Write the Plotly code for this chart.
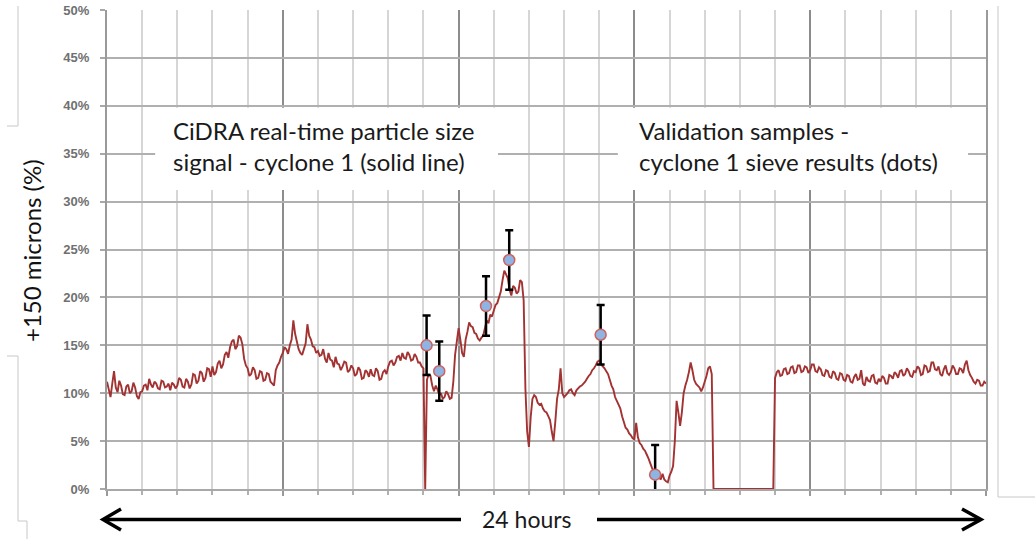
import plotly.graph_objects as go

# ---------------- data ----------------
# time axis in grid units (25 minor divisions = 24 hours), sampled every 0.05 unit
signal_step = 0.05
signal_pct = [
    11.2, 10.4, 9.6, 11.0, 12.3, 10.6, 10.1, 11.3, 10.8, 9.9, 9.8, 10.7, 10.9, 10.0, 10.2, 11.1, 10.6, 9.7, 9.4, 10.1,
    10.2, 10.8, 10.9, 10.3, 11.5, 10.9, 10.6, 11.2, 11.0, 10.5, 10.4, 11.3, 11.2, 10.6, 10.7, 11.0, 10.3, 11.1, 10.9, 10.5,
    10.8, 11.6, 11.4, 10.7, 10.6, 11.5, 11.2, 10.5, 10.9, 12.0, 11.9, 11.0, 11.3, 12.3, 12.1, 11.2, 11.6, 12.6, 12.5, 11.7,
    12.8, 11.9, 12.2, 13.1, 13.4, 12.6, 13.0, 14.0, 14.3, 13.7, 14.8, 15.4, 15.6, 14.6, 14.9, 16.0, 15.8, 15.1, 13.6, 12.9,
    12.6, 11.8, 12.0, 12.7, 12.4, 11.5, 11.6, 12.3, 12.2, 11.3, 11.4, 12.1, 12.0, 11.2, 11.0, 10.8, 12.4, 12.9, 13.2, 13.8,
    14.2, 14.8, 14.6, 14.1, 15.0, 15.6, 17.6, 16.2, 15.4, 14.6, 14.2, 14.0, 14.6, 15.2, 17.2, 16.0, 15.6, 14.9, 14.8, 14.2,
    14.4, 13.9, 14.0, 14.6, 13.6, 13.2, 14.2, 13.5, 13.4, 12.7, 13.8, 13.1, 13.0, 12.4, 12.8, 13.3, 13.2, 12.2, 12.4, 12.9,
    12.6, 11.8, 12.0, 12.7, 12.4, 11.5, 11.6, 12.4, 12.2, 11.7, 12.5, 11.9, 11.8, 12.6, 12.3, 11.4, 11.5, 12.2, 12.4, 12.0,
    12.8, 13.3, 13.4, 12.9, 13.2, 13.8, 13.9, 13.4, 14.2, 13.7, 13.6, 14.3, 14.0, 13.4, 13.5, 14.1, 13.8, 13.2, 13.2, 12.8,
    12.6, 0.0, 11.4, 12.0, 11.8, 10.8, 10.2, 10.8, 10.4, 9.8, 10.0, 9.4, 9.6, 10.2, 9.9, 9.4, 9.5, 11.2, 14.0, 15.4,
    16.8, 15.6, 14.2, 13.8, 15.6, 16.4, 17.4, 17.0, 16.9, 16.3, 16.2, 15.7, 15.5, 15.8, 16.0, 16.8, 17.6, 17.3, 18.2, 18.0,
    18.6, 19.2, 19.4, 20.0, 20.6, 21.8, 22.8, 22.4, 22.0, 20.8, 20.2, 21.2, 21.0, 20.4, 20.6, 21.8, 21.6, 19.7, 10.5, 6.0,
    4.4, 7.5, 9.4, 9.8, 9.6, 9.0, 8.8, 8.9, 8.4, 8.1, 8.0, 7.6, 7.2, 6.0, 5.0, 7.0, 9.4, 10.4, 12.6, 10.0,
    9.6, 9.8, 10.0, 10.3, 10.4, 10.0, 9.8, 10.3, 10.5, 10.7, 10.8, 11.0, 11.2, 11.5, 11.8, 12.0, 12.4, 12.6, 12.9, 13.3,
    13.4, 13.0, 12.8, 12.6, 12.3, 12.0, 11.4, 10.8, 10.4, 9.6, 9.2, 8.8, 8.4, 7.6, 7.0, 6.4, 6.2, 5.8, 5.6, 5.3,
    5.2, 6.9, 5.4, 4.8, 4.6, 4.2, 4.0, 3.6, 3.2, 2.7, 2.2, 1.8, 1.6, 1.4, 1.2, 1.0, 1.6, 1.0, 0.8, 0.7,
    1.4, 1.8, 2.4, 5.0, 9.2, 8.0, 6.6, 8.0, 10.0, 10.8, 11.4, 12.2, 13.2, 12.4, 11.4, 11.0, 10.8, 10.6, 10.2, 10.6,
    11.2, 11.8, 12.6, 12.8, 12.0, 0.0, 0.0, 0.0, 0.0, 0.0, 0.0, 0.0, 0.0, 0.0, 0.0, 0.0, 0.0, 0.0, 0.0, 0.0,
    0.0, 0.0, 0.0, 0.0, 0.0, 0.0, 0.0, 0.0, 0.0, 0.0, 0.0, 0.0, 0.0, 0.0, 0.0, 0.0, 0.0, 0.0, 0.0, 0.0,
    11.6, 12.2, 12.4, 11.8, 11.9, 12.5, 12.6, 12.0, 12.1, 12.7, 12.8, 12.1, 12.2, 12.9, 12.9, 12.2, 12.3, 12.8, 12.7, 12.1,
    12.4, 13.0, 13.0, 12.3, 12.2, 12.7, 12.5, 11.9, 11.8, 12.4, 12.3, 11.7, 11.6, 12.3, 12.1, 11.5, 11.4, 12.1, 12.0, 11.4,
    11.3, 11.9, 11.8, 11.2, 11.1, 11.7, 12.0, 11.4, 11.5, 12.4, 11.0, 10.8, 11.7, 11.3, 11.2, 11.8, 11.9, 11.1, 11.0, 11.5,
    11.2, 11.8, 11.6, 11.0, 11.0, 11.9, 11.8, 11.5, 12.2, 12.0, 11.6, 12.3, 12.4, 11.8, 12.0, 12.6, 12.3, 11.8, 11.7, 12.3,
    12.2, 12.8, 12.6, 11.9, 12.0, 12.9, 12.8, 12.2, 12.3, 13.2, 13.2, 12.5, 12.4, 12.8, 12.0, 11.8, 12.5, 12.9, 12.1, 11.9,
    12.2, 12.9, 12.6, 12.0, 12.0, 12.6, 12.5, 12.1, 13.0, 13.4, 12.4, 11.9, 11.6, 11.2, 11.0, 11.4, 11.3, 10.8, 10.8, 11.2,
    11.0,
]
signal_x = [round(i * signal_step, 3) for i in range(len(signal_pct))]

sample_x = [9.09, 9.45, 10.78, 11.44, 14.04, 15.59]
sample_pct = [15.0, 12.3, 19.1, 23.9, 16.1, 1.5]
sample_err = [3.1, 3.1, 3.1, 3.1, 3.1, 3.1]

y_ticks = [0, 5, 10, 15, 20, 25, 30, 35, 40, 45, 50]
y_tick_text = ["0%", "5%", "10%", "15%", "20%", "25%", "30%", "35%", "40%", "45%", "50%"]

box_left_text = "CiDRA real-time particle size<br>signal - cyclone 1 (solid line)"
box_right_text = "Validation samples -<br>cyclone 1 sieve results (dots)"
y_title = "+150 microns (%)"
span_text = "24 hours"

# ---------------- figure ----------------
W, H = 1035, 539
L, R, T, B = 107, 49, 10, 50
PW, PH = W - L - R, H - T - B


def px(x):
    return (x - L) / PW


def py(y):
    return (H - B - y) / PH


fig = go.Figure()

fig.add_trace(go.Scatter(
    x=signal_x, y=signal_pct, mode="lines",
    line=dict(color="#a33232", width=1.9, simplify=False),
    hoverinfo="skip", showlegend=False,
))

fig.add_trace(go.Scatter(
    x=sample_x, y=sample_pct, mode="markers",
    marker=dict(size=11, color="#8db4e2", line=dict(color="#d0605c", width=1.5)),
    error_y=dict(type="data", array=sample_err, symmetric=True,
                 color="black", thickness=2.5, width=4),
    showlegend=False,
))

shapes = []
# white text boxes
for x0, x1 in [(1.37, 11.12), (14.53, 24.49)]:
    shapes.append(dict(type="rect", xref="x", yref="y", x0=x0, x1=x1, y0=31.2, y1=39.8,
                       fillcolor="white", line=dict(width=0), layer="above"))

# bottom double arrow
ay = py(519.5)
arrow_line = dict(color="black", width=3.5)
shapes.append(dict(type="line", xref="paper", yref="paper", x0=px(104), x1=px(461), y0=ay, y1=ay, line=arrow_line))
shapes.append(dict(type="path", xref="paper", yref="paper",
                   path=f"M {px(121)},{py(509)} L {px(103)},{ay} L {px(121)},{py(530)}",
                   line=arrow_line))
shapes.append(dict(type="line", xref="paper", yref="paper", x0=px(597), x1=px(980), y0=ay, y1=ay, line=arrow_line))
shapes.append(dict(type="path", xref="paper", yref="paper",
                   path=f"M {px(962)},{py(509)} L {px(981)},{ay} L {px(962)},{py(530)}",
                   line=arrow_line))

# faint frame fragments around the chart
frame = dict(color="#c8c8c8", width=1)
shapes.append(dict(type="path", xref="paper", yref="paper",
                   path=f"M {px(18)},{py(6)} L {px(18)},{py(126)} L {px(7)},{py(126)}", line=frame))
shapes.append(dict(type="path", xref="paper", yref="paper",
                   path=f"M {px(7)},{py(356)} L {px(18)},{py(356)} L {px(18)},{py(521)} L {px(27)},{py(521)} L {px(27)},{py(539)}",
                   line=frame))
shapes.append(dict(type="path", xref="paper", yref="paper",
                   path=f"M {px(998)},{py(6)} L {px(998)},{py(497)} L {px(1035)},{py(497)}", line=frame))

annotations = [
    dict(x=1.82, y=35.85, xref="x", yref="y", text=box_left_text, showarrow=False,
         xanchor="left", yanchor="middle", align="left",
         font=dict(family="Lato", size=24, color="#1a1a1a")),
    dict(x=15.08, y=35.85, xref="x", yref="y", text=box_right_text, showarrow=False,
         xanchor="left", yanchor="middle", align="left",
         font=dict(family="Lato", size=24, color="#1a1a1a")),
    dict(x=px(527), y=py(519), xref="paper", yref="paper", text=span_text, showarrow=False,
         xanchor="center", yanchor="middle",
         font=dict(family="Lato", size=23, color="#1a1a1a")),
    dict(x=px(31), y=py(251), xref="paper", yref="paper", text=y_title, showarrow=False,
         textangle=-90, xanchor="center", yanchor="middle",
         font=dict(family="Lato", size=24, color="#111111")),
]

fig.update_layout(
    width=W, height=H,
    margin=dict(l=L, r=R, t=T, b=B, pad=0),
    paper_bgcolor="white", plot_bgcolor="white",
    shapes=shapes, annotations=annotations,
    showlegend=False,
)

fig.update_xaxes(
    range=[0, 25], tick0=0, dtick=5, automargin=False,
    showgrid=True, gridcolor="#8c8c8c", gridwidth=2,
    ticks="outside", ticklen=5, tickcolor="#9a9a9a", tickwidth=1.5,
    showticklabels=False, zeroline=False,
    showline=True, linecolor="#a8a8a8", linewidth=1.5,
    minor=dict(dtick=1, tick0=0, showgrid=True, gridcolor="#d6d6d6", gridwidth=2,
               ticks="outside", ticklen=4, tickcolor="#b0b0b0", tickwidth=1.5),
)

fig.update_yaxes(
    range=[0, 50], tickmode="array", tickvals=y_ticks, ticktext=y_tick_text,
    automargin=False,
    showgrid=True, gridcolor="#b0b0b0", gridwidth=1.6,
    ticks="outside", ticklen=5, tickcolor="#a8a8a8", tickwidth=1.5,
    ticklabelstandoff=8,
    tickfont=dict(family="Liberation Sans", size=13, color="#707070", weight="bold"),
    zeroline=False,
    showline=True, linecolor="#9a9a9a", linewidth=2, mirror=True,
)

fig.write_html("out.html")
